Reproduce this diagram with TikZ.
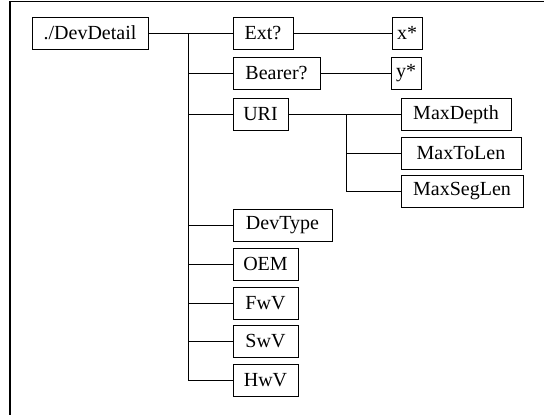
\documentclass[tikz,border=0pt]{standalone}
\usepackage{fontspec}
\setmainfont{Liberation Serif}
\usetikzlibrary{positioning}

\tikzset{
  leaf/.style={draw, line width=0.8pt, inner sep=0pt, minimum height=32pt,
    font=\fontsize{20}{23}\selectfont},
  wire/.style={line width=0.8pt},
}

\begin{document}
\begin{tikzpicture}[x=1pt, y=-1pt]
\useasboundingbox (0,0) rectangle (544,415);
\draw[line width=1.2pt] (10,415) -- (10,1.5) -- (544,1.5);

\node[leaf, minimum width=116pt] (dev) at (90,33) {./DevDetail};
\node[leaf, minimum width=60pt] (ext) at (263,33) {Ext?};
\node[leaf, minimum width=30pt] (xs) at (407,33) {x*};
\node[leaf, minimum width=87pt] (bearer) at (276.5,73) {Bearer?};
\node[leaf, minimum width=30pt] (ys) at (406,73) {y*};
\node[leaf, minimum width=55pt] (uri) at (260.5,114.5) {URI};
\node[leaf, minimum width=110pt] (maxdepth) at (456,114.5) {MaxDepth};
\node[leaf, minimum width=120pt] (maxtolen) at (461,153) {MaxToLen};
\node[leaf, minimum width=122pt] (maxseglen) at (462,191) {MaxSegLen};
\node[leaf, minimum width=99pt] (devtype) at (282.5,225) {DevType};
\node[leaf, minimum width=65pt] (oem) at (265.5,264) {OEM};
\node[leaf, minimum width=65pt] (fwv) at (265.5,303) {FwV};
\node[leaf, minimum width=65pt] (swv) at (265.5,341.5) {SwV};
\node[leaf, minimum width=65pt] (hwv) at (265.5,380) {HwV};

% main trunk
\coordinate (trunk) at (188,33);
\draw[wire] (dev.east) -- (ext.west);
\draw[wire] (trunk) |- (hwv.west);
\foreach \n in {bearer,uri,devtype,oem,fwv,swv}
  \draw[wire] (trunk |- \n.west) -- (\n.west);
\draw[wire] (ext.east) -- (xs.west);
\draw[wire] (bearer.east) -- (ys.west);

% URI children
\coordinate (sub) at (346,114.5);
\draw[wire] (uri.east) -- (maxdepth.west);
\draw[wire] (sub) |- (maxseglen.west);
\draw[wire] (sub |- maxtolen.west) -- (maxtolen.west);
\end{tikzpicture}
\end{document}
